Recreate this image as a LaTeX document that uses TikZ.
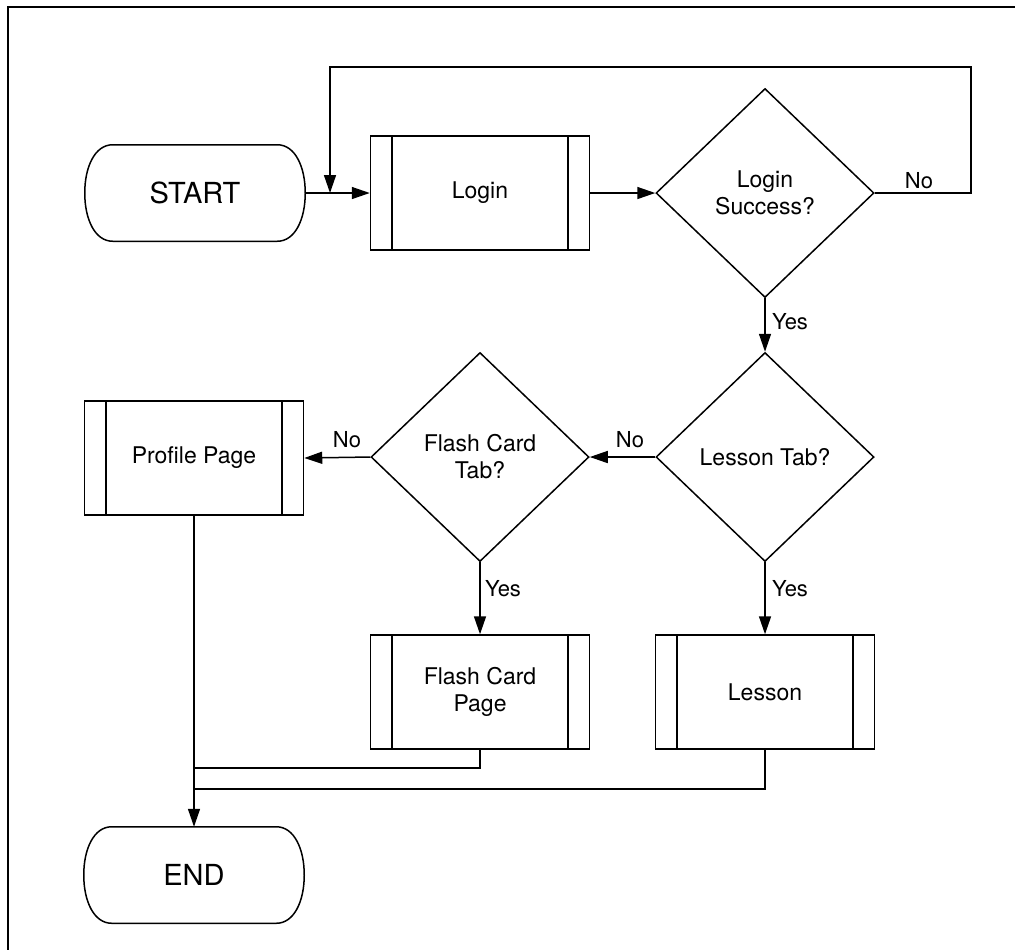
\documentclass[tikz,border=0pt]{standalone}
\usepackage{fontspec}
\setmainfont{TeX Gyre Heros}
\usetikzlibrary{shapes.geometric,arrows.meta}

% outline of a terminal (start/end) node: straight top and bottom, bulging sides
\newcommand\termoutline[1]{%
  \draw ([xshift=14pt]#1.north west) -- ([xshift=-14pt]#1.north east)
    .. controls +(9pt,0) and +(0,13pt) .. (#1.east)
    .. controls +(0,-13pt) and +(9pt,0) .. ([xshift=-14pt]#1.south east)
    -- ([xshift=14pt]#1.south west)
    .. controls +(-9pt,0) and +(0,-13pt) .. (#1.west)
    .. controls +(0,13pt) and +(-9pt,0) .. cycle;}

\begin{document}
\begin{tikzpicture}[x=0.5pt,y=-0.5pt,
  line width=0.75pt,
  every node/.style={font=\fontsize{11.5}{13.5}\selectfont},
  term/.style={rectangle, minimum width=109.5pt, minimum height=47.5pt,
    inner sep=0pt, font=\fontsize{14.5}{17}\selectfont},
  proc/.style={draw, rectangle, minimum width=109.5pt, minimum height=57pt,
    align=center,
    path picture={\draw
      ([xshift=10.75pt]path picture bounding box.north west) --
      ([xshift=10.75pt]path picture bounding box.south west)
      ([xshift=-10.75pt]path picture bounding box.north east) --
      ([xshift=-10.75pt]path picture bounding box.south east);}},
  dec/.style={draw, diamond, minimum width=109pt, minimum height=104.5pt,
    inner sep=0pt, align=center},
  flow/.style={-{Triangle[length=9pt,width=6pt]}},
  lbl/.style={font=\fontsize{11}{13}\selectfont, inner sep=1pt},
  frame/.style={line width=1.2pt}
]
\useasboundingbox (0,0) rectangle (1015,950);

% page frame
\draw[frame] (1015,7) -- (8,7) -- (8,950);

% shapes
\node[term] (start) at (195,193) {START};
\termoutline{start}
\node[proc] (login) at (480,193) {Login};
\node[dec]  (dls)   at (765,193) {Login\\Success?};
\node[dec]  (lt)    at (765,457) {Lesson Tab?};
\node[dec]  (fct)   at (480,457) {Flash Card\\Tab?};
\node[proc] (profile) at (194,458) {Profile Page};
\node[proc] (fcpage)  at (480,692) {Flash Card\\Page};
\node[proc] (lesson)  at (765,692) {Lesson};
\node[term] (end)   at (194,875) {END};
\termoutline{end}

% junction points
\coordinate (retry) at (330,193);
\coordinate (j1) at (194,768);
\coordinate (j2) at (194,789);

% connectors
\draw[flow] (start.east) -- (login.west);
\draw[flow] (login.east) -- (dls.west);
\draw[flow] (dls.east) -- (971,193) -- (971,67) -- (330,67) -- (retry);
\draw[flow] (dls.south) -- (lt.north);
\draw[flow] (lt.west) -- (fct.east);
\draw[flow] (fct.west) -- (profile.east);
\draw[flow] (fct.south) -- (fcpage.north);
\draw[flow] (lt.south) -- (lesson.north);
\draw[flow] (profile.south) -- (end.north);
\draw (fcpage.south) |- (j1);
\draw (lesson.south) |- (j2);

% labels
\node[lbl] (noLogin) at (919,181) {No};
\node[lbl] (yesLogin) at (790,322) {Yes};
\node[lbl] (noLesson) at (630,440) {No};
\node[lbl] (noFlash) at (347,440) {No};
\node[lbl] (yesFlash) at (503,589) {Yes};
\node[lbl] (yesLesson) at (790,589) {Yes};
\end{tikzpicture}
\end{document}
